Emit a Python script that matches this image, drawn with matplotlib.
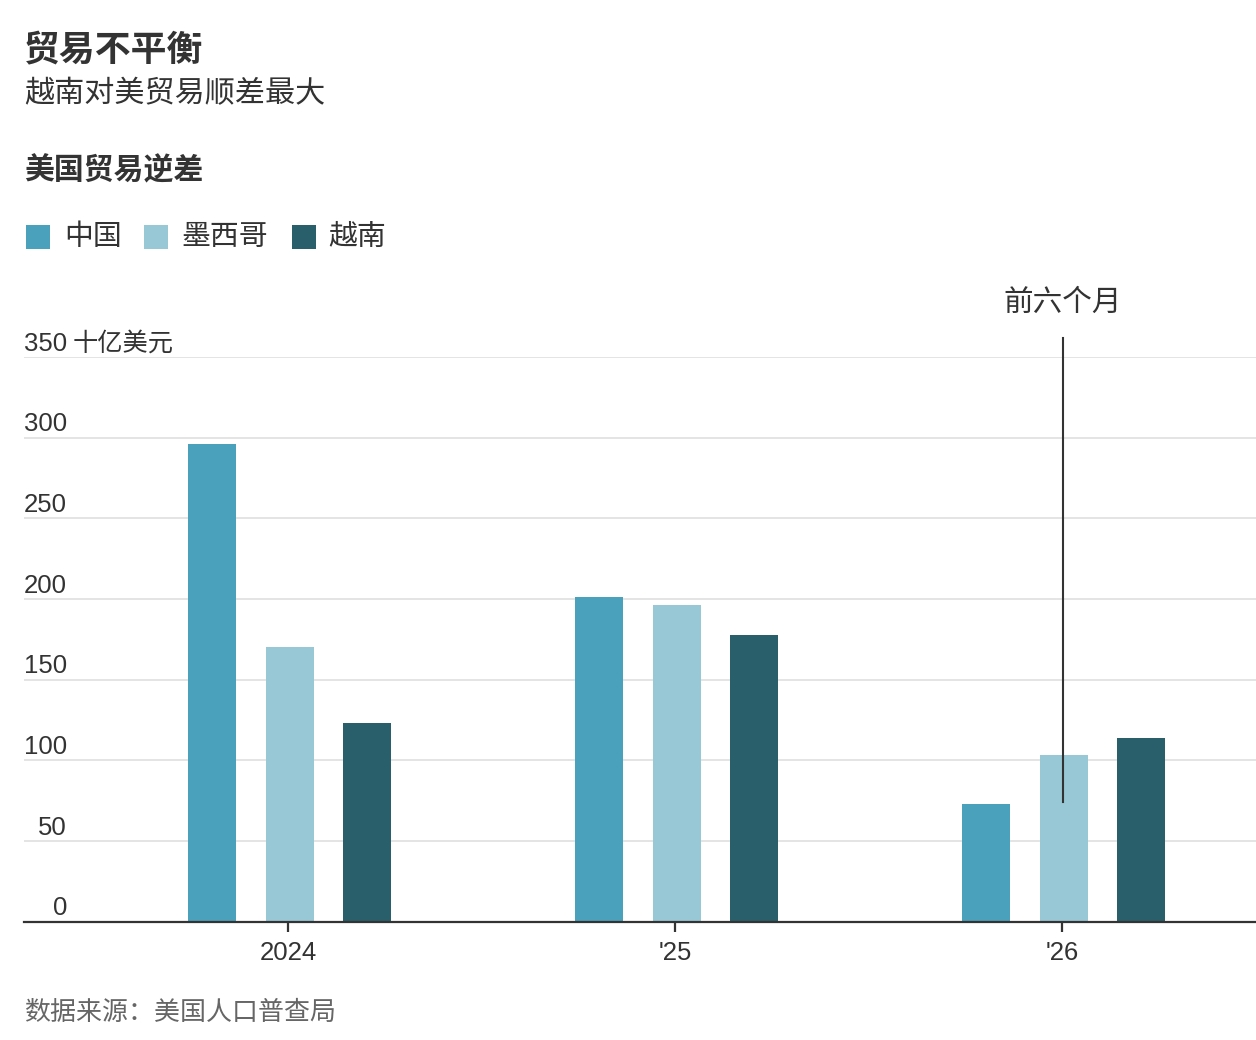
import matplotlib
matplotlib.use("Agg")
import matplotlib.pyplot as plt
from matplotlib.patches import Rectangle
from matplotlib.transforms import blended_transform_factory
import numpy as np

# ---- data ----
periods = ["2024", "'25", "'26"]
series_names = ["中国", "墨西哥", "越南"]
china = [296, 201, 73]
mexico = [170, 196.5, 103]
vietnam = [123, 177.5, 114]
y_ticks = [0, 50, 100, 150, 200, 250, 300, 350]
y_unit = "十亿美元"
annot_text = "前六个月"
annot_top = 362
annot_bottom = 74
annot_label_y = 384

colors = ["#4aa1bb", "#98c7d5", "#285f6a"]
TXT = "#333333"
W, H = 1256, 1040

plt.rcParams['font.family'] = ['Liberation Sans', 'Noto Sans CJK SC', 'DejaVu Sans']
CJK = ['Noto Sans CJK SC', 'DejaVu Sans']

fig = plt.figure(figsize=(W / 100, H / 100), dpi=100)
fig.patch.set_facecolor("white")

def fx(px):
    return px / W

def fy(py):
    return 1 - py / H

ax = fig.add_axes([fx(24), fy(921.5), 1 - fx(24), (921.5 - 357) / H])

G0, GS = 289.8, 387.0
x = np.arange(len(periods))
bw = 48 / GS
step = 77.5 / GS
for i, (vals, c) in enumerate(zip([china, mexico, vietnam], colors)):
    ax.bar(x + (i - 1) * step, vals, width=bw, color=c, zorder=3, linewidth=0)

ax.set_xlim((24 - G0) / GS, (1256 - G0) / GS)
ax.set_ylim(0, 350)

# gridlines
for t in y_ticks[1:]:
    ax.axhline(t, color="#e2e2e2", linewidth=1.3, zorder=1)

for s in ["top", "right", "left"]:
    ax.spines[s].set_visible(False)
ax.spines["bottom"].set_color(TXT)
ax.spines["bottom"].set_linewidth(1.6)
ax.spines["bottom"].set_zorder(5)

ax.set_yticks([])
ax.set_xticks(x - 1.5 / GS)
ax.set_xticklabels(periods, fontsize=18.5, color=TXT)
ax.tick_params(axis="x", length=7, width=1.6, color=TXT, pad=7)

# y labels above gridlines
tr = blended_transform_factory(fig.transFigure, ax.transData)
for t in y_ticks:
    ax.annotate(str(t), xy=(fx(67), t), xycoords=tr, xytext=(0, 4.5),
                textcoords="offset points", ha="right", va="baseline",
                fontsize=18.5, color=TXT, annotation_clip=False)
    if t == y_ticks[-1]:
        ax.annotate(y_unit, xy=(fx(73), t), xycoords=tr, xytext=(0, 4.5),
                    textcoords="offset points", ha="left", va="baseline",
                    fontsize=18.2, color=TXT, family=CJK, annotation_clip=False)

# annotation
ax.plot([x[2] - 1 / GS, x[2] - 1 / GS], [annot_bottom, annot_top], color=TXT,
        linewidth=1.5, zorder=6, clip_on=False)
ax.text(x[2] - 1 / GS, annot_label_y, annot_text, ha="center", va="center",
        fontsize=21.3, color=TXT, family=CJK, clip_on=False)

# header texts
fig.text(fx(24), fy(51), "贸易不平衡", fontsize=25.8, fontweight="bold",
         color=TXT, family=CJK, ha="left", va="center")
fig.text(fx(24), fy(94), "越南对美贸易顺差最大", fontsize=21.7, color=TXT,
         family=CJK, ha="left", va="center")
fig.text(fx(24), fy(170), "美国贸易逆差", fontsize=21.5, fontweight="bold",
         color=TXT, family=CJK, ha="left", va="center")

# legend
sq_x = [26, 144, 292]
tx_x = [64, 181, 328]
for name, c, sx, tx in zip(series_names, colors, sq_x, tx_x):
    fig.patches.append(Rectangle((fx(sx), fy(249)), 24 / W, 24 / H,
                                 transform=fig.transFigure, facecolor=c,
                                 edgecolor="none"))
    fig.text(fx(tx), fy(237), name, fontsize=20.8, color=TXT, family=CJK,
             ha="left", va="center")

# footer
fig.text(fx(24), fy(1013), "数据来源：美国人口普查局", fontsize=18.7,
         color="#666666", family=CJK, ha="left", va="center")

fig.savefig("out.png", dpi=100, facecolor="white")
